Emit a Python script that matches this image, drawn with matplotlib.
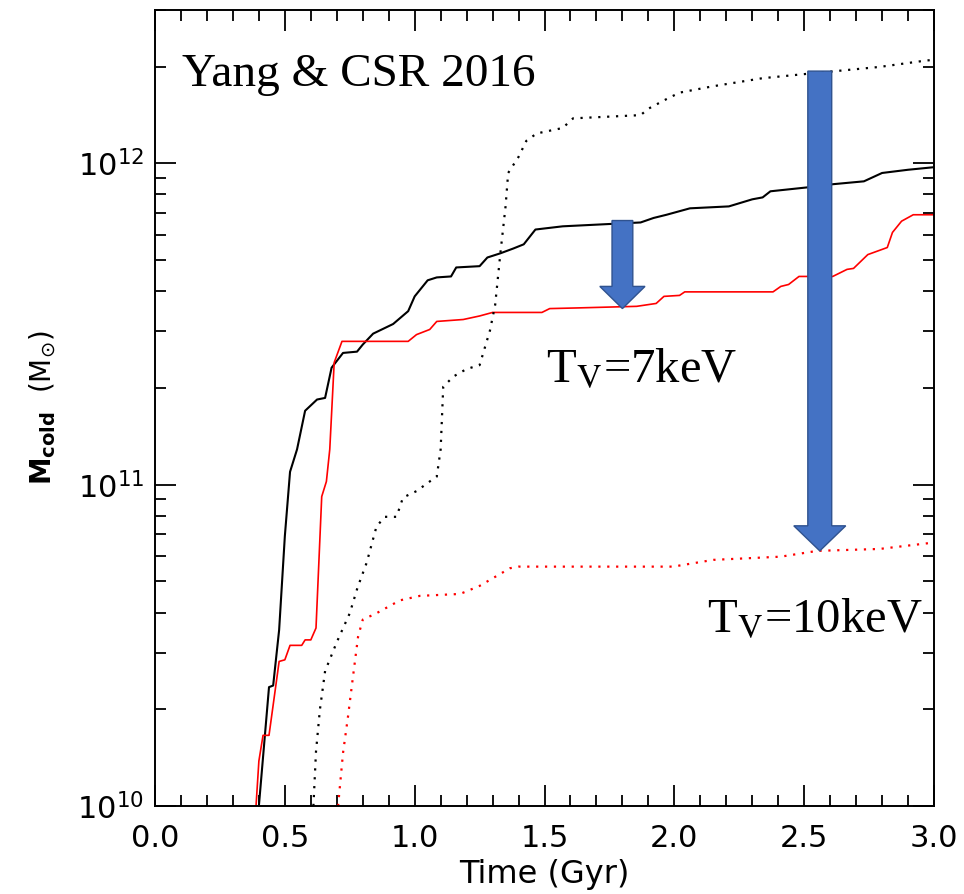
import numpy as np
import matplotlib
matplotlib.use('Agg')
import matplotlib.pyplot as plt
from matplotlib.patches import Polygon
from matplotlib.ticker import MultipleLocator, LogLocator, NullFormatter

# log10(M_cold / Msun)
t_black = [0.40, 0.439, 0.455, 0.478, 0.50, 0.52, 0.547, 0.578, 0.624, 0.655, 0.68, 0.724,
           0.778, 0.80, 0.84, 0.917, 0.975, 1.0, 1.05, 1.085, 1.14, 1.16, 1.25, 1.28, 1.33,
           1.38, 1.42, 1.465, 1.57, 1.87, 1.92, 1.97, 2.06, 2.21, 2.30, 2.34, 2.37, 2.51,
           2.61, 2.73, 2.80, 2.90, 3.0]
m_black = [10.0, 10.37, 10.375, 10.548, 10.84, 11.04, 11.11, 11.23, 11.265, 11.27, 11.364, 11.41,
           11.414, 11.436, 11.47, 11.50, 11.54, 11.586, 11.636, 11.645, 11.648, 11.676, 11.68,
           11.707, 11.72, 11.735, 11.748, 11.794, 11.804, 11.816, 11.83, 11.84, 11.86, 11.866,
           11.888, 11.894, 11.913, 11.925, 11.935, 11.944, 11.97, 11.98, 11.988]

t_red = [0.389, 0.40, 0.416, 0.439, 0.478, 0.50, 0.52, 0.565, 0.578, 0.60, 0.62, 0.642, 0.66,
         0.673, 0.69, 0.72, 0.975, 1.007, 1.058, 1.085, 1.187, 1.25, 1.30, 1.49, 1.52, 1.625,
         1.855, 1.93, 1.96, 2.02, 2.04, 2.38, 2.41, 2.44, 2.48, 2.61, 2.665, 2.69, 2.745, 2.82,
         2.84, 2.875, 2.92, 3.0]
m_red = [10.0, 10.14, 10.22, 10.22, 10.45, 10.455, 10.50, 10.50, 10.517, 10.517, 10.554, 10.963,
         11.01, 11.11, 11.38, 11.446, 11.446, 11.467, 11.483, 11.508, 11.514, 11.525, 11.536,
         11.536, 11.548, 11.55, 11.555, 11.564, 11.586, 11.589, 11.60, 11.60, 11.617, 11.623,
         11.648, 11.648, 11.67, 11.673, 11.716, 11.738, 11.785, 11.82, 11.84, 11.84]

t_black_dot = [0.61, 0.62, 0.635, 0.655, 0.70, 0.75, 0.78, 0.815, 0.853, 0.885, 0.93, 0.955,
               1.007, 1.058, 1.085, 1.10, 1.11, 1.15, 1.20, 1.25, 1.29, 1.31, 1.33, 1.35, 1.36,
               1.40, 1.43, 1.47, 1.57, 1.61, 1.87, 1.90, 1.97, 2.02, 2.15, 2.34, 2.53, 2.79,
               2.97, 3.0]
m_black_dot = [10.0, 10.17, 10.30, 10.42, 10.51, 10.60, 10.68, 10.757, 10.87, 10.90, 10.90, 10.96,
               10.98, 11.01, 11.025, 11.11, 11.305, 11.337, 11.36, 11.372, 11.48, 11.56, 11.72,
               11.866, 11.97, 12.02, 12.07, 12.093, 12.11, 12.14, 12.15, 12.17, 12.20, 12.22,
               12.24, 12.265, 12.28, 12.30, 12.32, 12.322]

t_red_dot = [0.705, 0.724, 0.743, 0.762, 0.782, 0.80, 0.853, 0.943, 1.02, 1.175, 1.25, 1.367,
             1.40, 1.995, 2.15, 2.41, 2.55, 2.79, 3.0]
m_red_dot = [10.0, 10.165, 10.277, 10.40, 10.527, 10.58, 10.60, 10.64, 10.654, 10.66, 10.685,
             10.74, 10.745, 10.745, 10.766, 10.776, 10.794, 10.80, 10.82]

# arrows: x, log top, log tip
arrow_x = [1.80, 2.56]
arrow_top = [11.822, 12.287]
arrow_tip = [11.548, 10.794]
arrow_shaft = [0.04, 0.046]
arrow_head = [0.087, 0.10]
arrow_headlen = [0.069, 0.078]

fig = plt.figure(figsize=(9.64, 8.94), dpi=100)
ax = fig.add_axes([0.1608, 0.0984, 0.8081, 0.8904])

ax.plot(t_black, 10 ** np.array(m_black), color='black', lw=1.5)
ax.plot(t_red, 10 ** np.array(m_red), color='#FF0000', lw=1.2)
ax.plot(t_black_dot, 10 ** np.array(m_black_dot), color='black', lw=1.6, linestyle=(0, (1, 3)))
ax.plot(t_red_dot, 10 ** np.array(m_red_dot), color='#FF0000', lw=1.6, linestyle=(0, (1, 3)))

ax.set_yscale('log')
ax.set_xlim(0, 3.0)
ax.set_ylim(1e10, 3e12)

for x, top, tip, sw, hw, hl in zip(arrow_x, arrow_top, arrow_tip, arrow_shaft, arrow_head, arrow_headlen):
    hb = tip + hl
    verts = [(x - sw, 10 ** top), (x + sw, 10 ** top), (x + sw, 10 ** hb), (x + hw, 10 ** hb),
             (x, 10 ** tip), (x - hw, 10 ** hb), (x - sw, 10 ** hb)]
    ax.add_patch(Polygon(verts, closed=True, facecolor='#4472C4', edgecolor='#2F528F',
                         lw=1.0, zorder=5))

ax.xaxis.set_major_locator(MultipleLocator(0.5))
ax.xaxis.set_minor_locator(MultipleLocator(0.1))
ax.yaxis.set_major_locator(LogLocator(base=10))
ax.yaxis.set_minor_locator(LogLocator(base=10, subs=np.arange(2, 10)))
ax.yaxis.set_minor_formatter(NullFormatter())
ax.xaxis.set_major_formatter(matplotlib.ticker.FormatStrFormatter('%.1f'))

ax.tick_params(which='both', direction='in', top=True, right=True, width=1.3, labelsize=22)
ax.tick_params(axis='x', pad=13)
ax.tick_params(axis='y', pad=8)
ax.tick_params(which='major', length=15)
ax.tick_params(which='minor', length=8)
for s in ax.spines.values():
    s.set_linewidth(1.4)

ax.set_xlabel('Time (Gyr)', fontsize=23, labelpad=4)
ax.set_ylabel(r'$\mathbf{M_{cold}}\ \ (\mathrm{M}_{\odot})$', fontsize=20, labelpad=14)

serif = 'Liberation Serif'
ax.text(0.035, 0.905, 'Yang & CSR 2016', transform=ax.transAxes, fontsize=34,
        family=serif, ha='left', va='baseline')
ax.text(1.505, 10 ** (10 + (806 - 382) / 321.0), r'T$_{\rm V}$=7keV', fontsize=35,
        family=serif, ha='left', va='baseline', math_fontfamily='stix')
ax.text(2.125, 10 ** (10 + (806 - 632) / 321.0), r'T$_{\rm V}$=10keV', fontsize=35,
        family=serif, ha='left', va='baseline', math_fontfamily='stix')

plt.savefig('out.png', dpi=100)
